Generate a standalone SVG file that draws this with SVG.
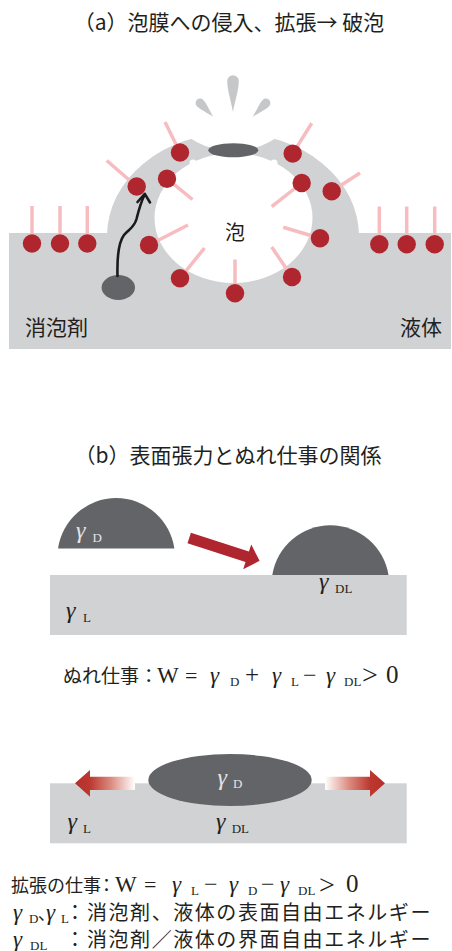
<svg xmlns="http://www.w3.org/2000/svg" width="452" height="951" viewBox="0 0 452 951">
  <defs>
    <style>
      .jp{font-family:"Noto Sans CJK JP","Noto Sans CJK SC",sans-serif;fill:#231f20}
      .pp{font-feature-settings:"palt" 1}
      .rm{font-family:"Liberation Serif","DejaVu Serif",serif;fill:#231f20}
      .gm{font-family:"Liberation Serif","DejaVu Serif",serif;font-style:italic}
      .lt{fill:#e4e4e6}
      .liquid{fill:#d1d2d4}
      .dark{fill:#636467}
      .head{fill:#b0262f}
      .tail{stroke:#f6bcc0;stroke-width:3.5;fill:none}
      .splash{fill:#c6c7c9}
      .path{fill:none;stroke:#1a1a1a;stroke-width:2.6;stroke-linecap:round;stroke-linejoin:round}
    </style>
    <!-- droplet thrown off the ruptured film, tip at origin -->
    <path id="drop" d="M0,0 C-1.5,-7 -4.5,-14 -4.5,-19 A4.5,4.5 0 0 1 4.5,-19 C4.5,-14 1.5,-7 0,0 Z"/>
    <linearGradient id="fadeL" x1="0" y1="0" x2="1" y2="0">
      <stop offset="0" stop-color="#b52f2a"/>
      <stop offset="0.25" stop-color="#bb3930"/>
      <stop offset="0.6" stop-color="#dc8b80"/>
      <stop offset="1" stop-color="#ffffff"/>
    </linearGradient>
    <linearGradient id="fadeR" x1="1" y1="0" x2="0" y2="0">
      <stop offset="0" stop-color="#b52f2a"/>
      <stop offset="0.25" stop-color="#bb3930"/>
      <stop offset="0.6" stop-color="#dc8b80"/>
      <stop offset="1" stop-color="#ffffff"/>
    </linearGradient>
  </defs>

  <!-- ===== (a) film entry, spreading and rupture ===== -->
  <g id="liquid-a">
    <rect class="liquid" x="9" y="233" width="442" height="116"/>
  </g>

  <g id="bubble">
    <ellipse class="liquid" cx="233" cy="236" rx="126" ry="103"/>
    <ellipse fill="#fff" cx="233.5" cy="218" rx="79" ry="65"/>
    <!-- rupture gap at the crown -->
    <circle fill="#fff" cx="233" cy="74.5" r="76.7"/>
    <circle fill="#fff" cx="193" cy="163" r="3.5"/>
    <circle fill="#fff" cx="274" cy="163" r="3.5"/>
    <ellipse class="dark" cx="233.3" cy="150.3" rx="25" ry="7"/>
  </g>

  <g id="splash">
    <path class="splash" d="M233,112 C231.5,103 227.2,90 227.2,81 A5.8,5.8 0 0 1 238.8,81 C238.8,90 234.5,103 233,112 Z"/>
    <use href="#drop" class="splash" transform="translate(213.3,116.7) rotate(-44)"/>
    <use href="#drop" class="splash" transform="translate(252.7,116.7) rotate(44)"/>
  </g>

  <g id="surfactants">
    <g class="tail">
      <line x1="32" y1="206" x2="32" y2="243.5"/>
      <line x1="60" y1="206" x2="60" y2="243.5"/>
      <line x1="87.3" y1="206" x2="87.3" y2="243.5"/>
      <line x1="379.3" y1="206.5" x2="379.3" y2="244.3"/>
      <line x1="406.7" y1="206.5" x2="406.7" y2="244.3"/>
      <line x1="434.7" y1="206.5" x2="434.7" y2="244.3"/>
      <line x1="180" y1="152.5" x2="165" y2="122"/>
      <line x1="136.7" y1="186.5" x2="106.7" y2="160.5"/>
      <line x1="167" y1="178.7" x2="192.5" y2="199.5"/>
      <line x1="149" y1="245" x2="188" y2="225"/>
      <line x1="180" y1="278.3" x2="204.5" y2="248"/>
      <line x1="235" y1="293.3" x2="235" y2="259.5"/>
      <line x1="292" y1="277" x2="271.7" y2="247"/>
      <line x1="320" y1="238.3" x2="283.3" y2="227.3"/>
      <line x1="301.7" y1="183" x2="271.7" y2="206.7"/>
      <line x1="331.7" y1="191.3" x2="360" y2="173"/>
      <line x1="292.7" y1="153.6" x2="311.7" y2="123.3"/>
    </g>
    <g class="head">
      <circle cx="32" cy="243.5" r="9.2"/>
      <circle cx="60" cy="243.5" r="9.2"/>
      <circle cx="87.3" cy="243.5" r="9.2"/>
      <circle cx="379.3" cy="244.3" r="9.2"/>
      <circle cx="406.7" cy="244.3" r="9.2"/>
      <circle cx="434.7" cy="244.3" r="9.2"/>
      <circle cx="180" cy="152.5" r="9.2"/>
      <circle cx="136.7" cy="186.5" r="9.2"/>
      <circle cx="167" cy="178.7" r="9.2"/>
      <circle cx="149" cy="245" r="9.2"/>
      <circle cx="180" cy="278.3" r="9.2"/>
      <circle cx="235" cy="293.3" r="9.2"/>
      <circle cx="292" cy="277" r="9.2"/>
      <circle cx="320" cy="238.3" r="9.2"/>
      <circle cx="301.7" cy="183" r="9.2"/>
      <circle cx="331.7" cy="191.3" r="9.2"/>
      <circle cx="292.7" cy="153.6" r="9.2"/>
    </g>
  </g>

  <g id="antifoam-a">
    <ellipse class="dark" cx="118.3" cy="287.5" rx="16.7" ry="12.5"/>
  </g>

  <g id="connectors">
    <path class="path" d="M117.5,276 C117,258 118,243 124,235 C129,229 134,228 136.5,219 C138.5,211 141,202 144.5,195"/>
    <path class="path" d="M137.5,202 L144.8,193.8 L150,202.5"/>
  </g>

  <g id="labels-a">
    <text class="jp" x="229" y="29.5" font-size="21" text-anchor="middle">（a）泡膜への侵入、拡張→ 破泡</text>
    <text class="jp" x="235" y="240" font-size="20" text-anchor="middle">泡</text>
    <text class="jp" x="25" y="335" font-size="21">消泡剤</text>
    <text class="jp" x="442" y="335" font-size="21" text-anchor="end">液体</text>
  </g>

  <!-- ===== (b) surface tension and work of wetting ===== -->
  <g id="title-b">
    <text class="jp" x="228" y="463" font-size="21" text-anchor="middle">（b）表面張力とぬれ仕事の関係</text>
  </g>

  <g id="wetting">
    <rect class="liquid" x="50" y="575" width="356.7" height="60"/>
    <path class="dark" d="M58,548.5 A58.8,58.8 0 0 1 174.4,548.5 Z"/>
    <path class="dark" d="M272.3,575 A58.8,58.8 0 0 1 388.5,575 Z"/>
    <g transform="translate(189.2,538) rotate(18)">
      <polygon class="head" points="0,-5.5 61,-5.5 61,-13 74,0 61,13 61,5.5 0,5.5"/>
    </g>
    <text class="rm lt" y="538"><tspan class="gm" x="76" font-size="24">γ</tspan><tspan x="92.5" y="541.5" font-size="13">D</tspan></text>
    <text class="rm" y="589"><tspan class="gm" x="319" font-size="24">γ</tspan><tspan x="335" y="593" font-size="13">DL</tspan></text>
    <text class="rm" y="617.5"><tspan class="gm" x="66" font-size="24">γ</tspan><tspan x="83" y="621.7" font-size="13">L</tspan></text>
  </g>

  <g id="formula-wetting">
    <text class="rm" y="682.5"><tspan class="jp" x="63" font-size="19">ぬれ仕事</tspan><tspan class="jp pp" x="144" font-size="19">：</tspan><tspan x="157" font-size="23">W</tspan><tspan x="185" font-size="22">=</tspan><tspan class="gm" x="210" font-size="23">γ</tspan><tspan x="230" y="685.5" font-size="13">D</tspan><tspan x="245" y="682.5" font-size="25">+</tspan><tspan class="gm" x="272" font-size="23">γ</tspan><tspan x="291" y="685.5" font-size="13">L</tspan><tspan x="303" y="682.5" font-size="24">−</tspan><tspan class="gm" x="326" font-size="23">γ</tspan><tspan x="344" y="685.5" font-size="13">DL</tspan><tspan x="362" y="684" font-size="28">&gt;</tspan><tspan x="386" y="682.5" font-size="25">0</tspan></text>
  </g>

  <g id="spreading">
    <rect class="liquid" x="50" y="783.3" width="356.7" height="60"/>
    <ellipse class="dark" cx="230" cy="780" rx="81.7" ry="26"/>
    <polygon fill="url(#fadeL)" points="75,783.3 90,770 90,776.7 135,776.7 135,790 90,790 90,796.7"/>
    <polygon fill="url(#fadeR)" points="385,783.3 370,770 370,776.7 325,776.7 325,790 370,790 370,796.7"/>
    <text class="rm lt" y="784.5"><tspan class="gm" x="217.5" font-size="24">γ</tspan><tspan x="233" y="788.3" font-size="13">D</tspan></text>
    <text class="rm" y="829"><tspan class="gm" x="67.5" font-size="24">γ</tspan><tspan x="83" y="832.7" font-size="13">L</tspan></text>
    <text class="rm" y="829"><tspan class="gm" x="216" font-size="24">γ</tspan><tspan x="231.7" y="832.7" font-size="13">DL</tspan></text>
  </g>

  <g id="formula-spreading">
    <text class="rm" y="892"><tspan class="jp" x="11" font-size="18">拡張の仕事</tspan><tspan class="jp pp" x="102" font-size="18">：</tspan><tspan x="115" font-size="23">W</tspan><tspan x="144" font-size="22">=</tspan><tspan class="gm" x="172" font-size="23">γ</tspan><tspan x="191" y="895" font-size="13">L</tspan><tspan x="204" y="892" font-size="24">−</tspan><tspan class="gm" x="229" font-size="23">γ</tspan><tspan x="248" y="895" font-size="13">D</tspan><tspan x="261" y="892" font-size="24">−</tspan><tspan class="gm" x="280" font-size="23">γ</tspan><tspan x="298" y="895" font-size="13">DL</tspan><tspan x="319" y="893.5" font-size="28">&gt;</tspan><tspan x="346" y="892" font-size="25">0</tspan></text>
  </g>

  <g id="legend">
    <text class="rm" y="919.5"><tspan class="gm" x="13" font-size="23">γ</tspan><tspan x="29" y="922.5" font-size="13">D</tspan><tspan class="jp pp" x="38" y="920" font-size="18">、</tspan><tspan class="gm" x="46" y="919.5" font-size="23">γ</tspan><tspan x="61" y="922.5" font-size="13">L</tspan><tspan class="jp pp" x="70" y="919.5" font-size="20">：</tspan><tspan class="jp" x="87" font-size="20" letter-spacing="1.56">消泡剤、液体の表面自由エネルギー</tspan></text>
    <text class="rm" y="946.5"><tspan class="gm" x="13" font-size="23">γ</tspan><tspan x="30" y="949.5" font-size="13">DL</tspan><tspan class="jp pp" x="70" y="946.5" font-size="20">：</tspan><tspan class="jp" x="87" font-size="20" letter-spacing="1.56">消泡剤／液体の界面自由エネルギー</tspan></text>
  </g>
</svg>
